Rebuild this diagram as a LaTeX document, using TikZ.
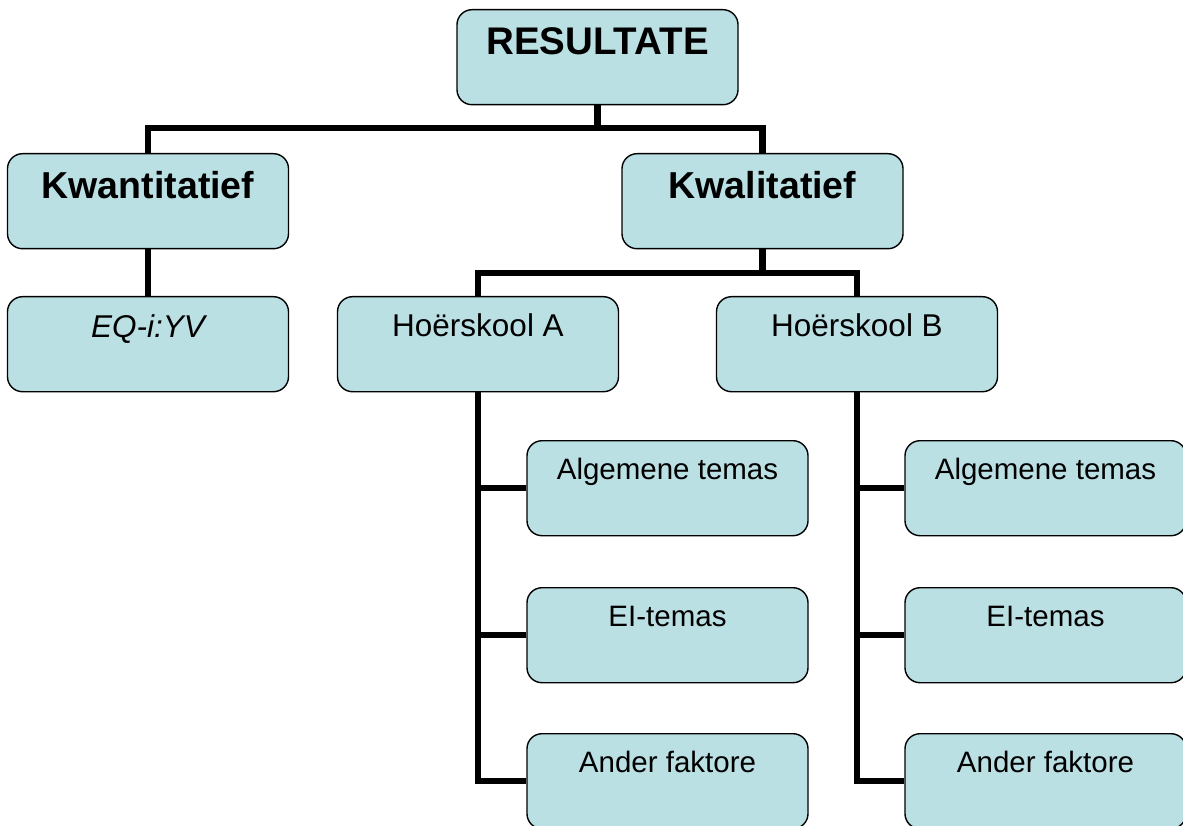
\documentclass[tikz,border=0pt]{standalone}
\usepackage{fontspec}
\setmainfont{Liberation Sans}
\definecolor{boxfill}{RGB}{186,224,228}
\tikzset{
  box/.style={draw=black, line width=1.4pt, fill=boxfill, rounded corners=15pt,
    minimum width=281pt, minimum height=95pt, inner sep=0pt, anchor=north,
    text height=39pt, text depth=56pt, font=\fontsize{29.5}{32}\selectfont},
  bigbox/.style={box, text height=40pt, text depth=55pt, font=\fontsize{31.5}{34}\selectfont},
  boldbox/.style={box, text height=45pt, text depth=50pt, font=\fontsize{37.5}{40}\selectfont\bfseries},
  conn/.style={draw=black, line width=6.5pt, line join=miter}
}
\begin{document}
\begin{tikzpicture}[x=1pt,y=-1pt]
\useasboundingbox (0,0) rectangle (1183,826);
\fill[white] (0,0) rectangle (1183,826);
\coordinate (j1) at (597.5,128);
\coordinate (j2) at (762.5,273);
\node[boldbox, font=\fontsize{38.5}{41}\selectfont\bfseries] (res) at (597.5,9) {RESULTATE};
\node[boldbox] (kwan) at (148,153) {Kwantitatief};
\node[boldbox] (kwal) at (762.5,153) {Kwalitatief};
\node[bigbox, text height=41pt, text depth=54pt] (eq) at (148,296) {\itshape EQ-i:YV};
\node[bigbox] (ha) at (478,296) {Hoërskool A};
\node[bigbox] (hb) at (857,296) {Hoërskool B};
\node[box] (a1) at (667.5,440) {Algemene temas};
\node[box] (a2) at (667.5,587) {EI-temas};
\node[box] (a3) at (667.5,733) {Ander faktore};
\node[box] (b1) at (1045.5,440) {Algemene temas};
\node[box] (b2) at (1045.5,587) {EI-temas};
\node[box] (b3) at (1045.5,733) {Ander faktore};
\draw[conn] (res.south) -- (j1);
\draw[conn] (kwan.north) |- (j1) -| (kwal.north);
\draw[conn] (kwan.south) -- (eq.north);
\draw[conn] (kwal.south) -- (j2);
\draw[conn] (ha.north) |- (j2) -| (hb.north);
\draw[conn] (ha.south) |- (a3.west);
\draw[conn] (ha.south |- a1.west) -- (a1.west);
\draw[conn] (ha.south |- a2.west) -- (a2.west);
\draw[conn] (hb.south) |- (b3.west);
\draw[conn] (hb.south |- b1.west) -- (b1.west);
\draw[conn] (hb.south |- b2.west) -- (b2.west);
\end{tikzpicture}
\end{document}
